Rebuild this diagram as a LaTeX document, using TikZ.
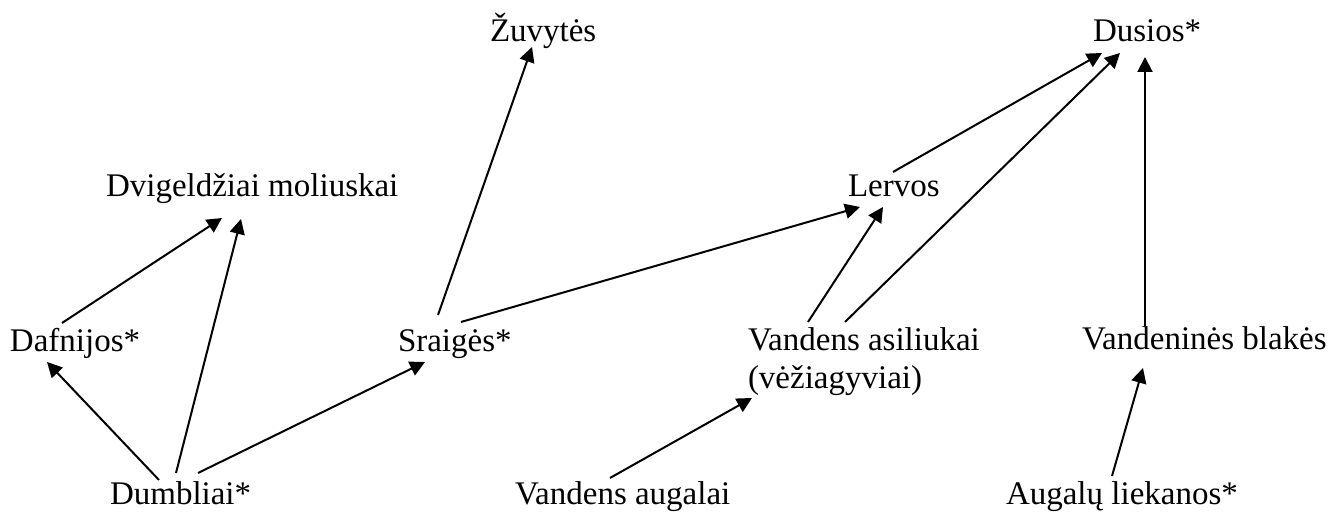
\documentclass[tikz,border=0pt]{standalone}
\usepackage{fontspec}
\setmainfont{Liberation Serif}
\usetikzlibrary{arrows.meta}
\begin{document}
\begin{tikzpicture}[x=0.5pt,y=-0.5pt,
  lbl/.style={inner sep=0pt,outer sep=0pt,anchor=base west,font=\fontsize{16.5}{19}\selectfont},
  link/.style={line width=1pt,-{Triangle[length=7.5pt,width=7.5pt]}}]
\useasboundingbox (0,0) rectangle (1335,512);
% nodes
\node[lbl] (zuv) at (490,42) {Žuvytės};
\node[lbl] (dus) at (1093,42) {Dusios*};
\node[lbl] (dvi) at (106,197) {Dvigeldžiai moliuskai};
\node[lbl] (ler) at (848,197) {Lervos};
\node[lbl] (daf) at (10,352) {Dafnijos*};
\node[lbl] (sra) at (398,352) {Sraigės*};
\node[lbl,anchor=north west,align=left] (asi) at (748,327.5) {Vandens asiliukai\\(vėžiagyviai)};
\node[lbl] (bla) at (1082,350) {Vandeninės blakės};
\node[lbl] (dum) at (110,505) {Dumbliai*};
\node[lbl] (aug) at (515,505) {Vandens augalai};
\node[lbl] (lie) at (1006,505) {Augalų liekanos*};
% connectors
\draw[link] ([shift={(52,-29)}]daf.base west) -- ([shift={(116,21)}]dvi.base west);
\draw[link] ([shift={(66,-32)}]dum.base west) -- ([shift={(135,22)}]dvi.base west);
\draw[link] ([shift={(49,-25)}]dum.base west) -- ([shift={(37,10)}]daf.base west);
\draw[link] ([shift={(88,-32)}]dum.base west) -- ([shift={(27,10)}]sra.base west);
\draw[link] ([shift={(40,-37)}]sra.base west) -- ([shift={(42,5)}]zuv.base west);
\draw[link] ([shift={(63,-30)}]sra.base west) -- ([shift={(12,10)}]ler.base west);
\draw[link] ([shift={(95,-27)}]aug.base west) -- ([shift={(4,70.5)}]asi.north west);
\draw[link] ([shift={(60,-5.5)}]asi.north west) -- ([shift={(35,10)}]ler.base west);
\draw[link] ([shift={(97,-5.5)}]asi.north west) -- ([shift={(27,11)}]dus.base west);
\draw[link] ([shift={(45,-25)}]ler.base west) -- ([shift={(9,11)}]dus.base west);
\draw[link] ([shift={(63,-24)}]bla.base west) -- ([shift={(52,15)}]dus.base west);
\draw[link] ([shift={(106,-29)}]lie.base west) -- ([shift={(61,18)}]bla.base west);
\end{tikzpicture}
\end{document}
